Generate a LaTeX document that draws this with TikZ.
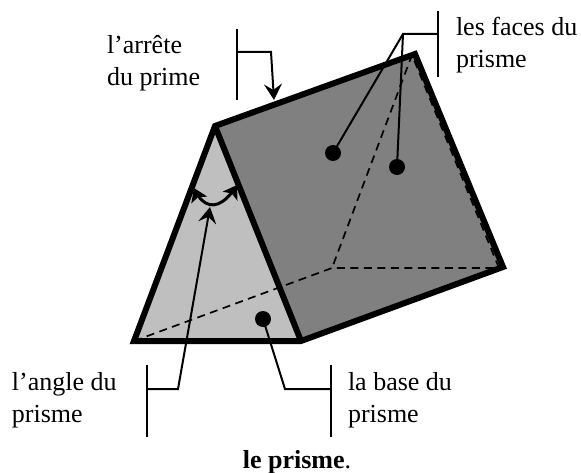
\documentclass[tikz,border=0pt]{standalone}
\usepackage{fontspec}
\setmainfont{Liberation Serif}
\usetikzlibrary{arrows.meta,bending}
\definecolor{lightface}{gray}{0.75}
\definecolor{darkface}{gray}{0.5}
\tikzset{
  lab/.style={inner sep=0pt,outer sep=0pt,align=left,anchor=base west,font=\fontsize{26}{32}\selectfont},
  lead/.style={line width=2pt,draw=black},
  edge/.style={line width=6pt,draw=black,line join=miter},
  hid/.style={line width=1.7pt,draw=black,dash pattern=on 8pt off 5.5pt},
  dotn/.style={circle,fill=black,inner sep=0pt,minimum size=16pt},
  tip/.style={-{Stealth[length=16pt,width=18pt,inset=6pt]}},
  dbl/.style={line width=3pt,{Stealth[length=13pt,width=17pt,inset=3pt,flex=0]}-{Stealth[length=13pt,width=17pt,inset=3pt,flex=0]}},
}
\begin{document}
\begin{tikzpicture}[x=1pt,y=-1pt]
\useasboundingbox (0,0) rectangle (581,473);
\coordinate (A) at (215,126);
\coordinate (B) at (415,54);
\coordinate (C) at (503,267);
\coordinate (D) at (301,341);
\coordinate (E) at (134,341);
\coordinate (F) at (332,268);
\coordinate (Bh) at (412,55);
\coordinate (Ch) at (499,268);
\fill[lightface] (A)--(D)--(E)--cycle;
\fill[darkface] (A)--(B)--(C)--(D)--cycle;
\draw[hid] (E)--(F)--(Ch)--(Bh)--(F);
\draw[edge] (E)--(A)--(B)--(C)--(D)--(E)--cycle (A)--(D);
% labels
\node[lab] (t1) at (107,86) {l’arrête\\du prime};
\node[lab] (t2) at (456,68) {les faces du\\prisme};
\node[lab] (t3) at (12,422) {l’angle du\\prisme};
\node[lab] (t4) at (348,422) {la base du\\prisme};
\node[lab,anchor=base,font=\fontsize{26}{32}\selectfont\bfseries] (t5) at (297,468) {le prisme\mdseries.};
% arete
\coordinate (a1) at (237,29); \coordinate (a2) at (237,100);
\draw[lead] (a1)--(a2);
\coordinate (a3) at (237,52); \coordinate (a4) at (271,52); \coordinate (a5) at (274,100);
\draw[lead,tip] (a3)--(a4)--(a5);
% faces
\coordinate (f1) at (438,11); \coordinate (f2) at (438,77);
\draw[lead] (f1)--(f2);
\coordinate (f3) at (438,34); \coordinate (f4) at (403,34);
\node[dotn] (d1) at (333,153) {};
\node[dotn] (d2) at (397,167) {};
\draw[lead] (f3)--(f4)--(d1.center);
\draw[lead] (f4)--(d2.center);
% angle
\coordinate (g1) at (147,365); \coordinate (g2) at (147,437);
\draw[lead] (g1)--(g2);
\coordinate (g3) at (147,389); \coordinate (g4) at (178,389); \coordinate (g5) at (210,207);
\draw[lead,tip] (g3)--(g4)--(g5);
\coordinate (h1) at (194,188); \coordinate (h2) at (237,185);
\draw[dbl] (h1) .. controls (204,211) and (221,211) .. (h2);
% base
\node[dotn] (d3) at (263,319) {};
\coordinate (b1) at (331,365); \coordinate (b2) at (331,437);
\draw[lead] (b1)--(b2);
\coordinate (b3) at (331,389); \coordinate (b4) at (285,389);
\draw[lead] (b3)--(b4)--(d3.center);
\end{tikzpicture}
\end{document}
